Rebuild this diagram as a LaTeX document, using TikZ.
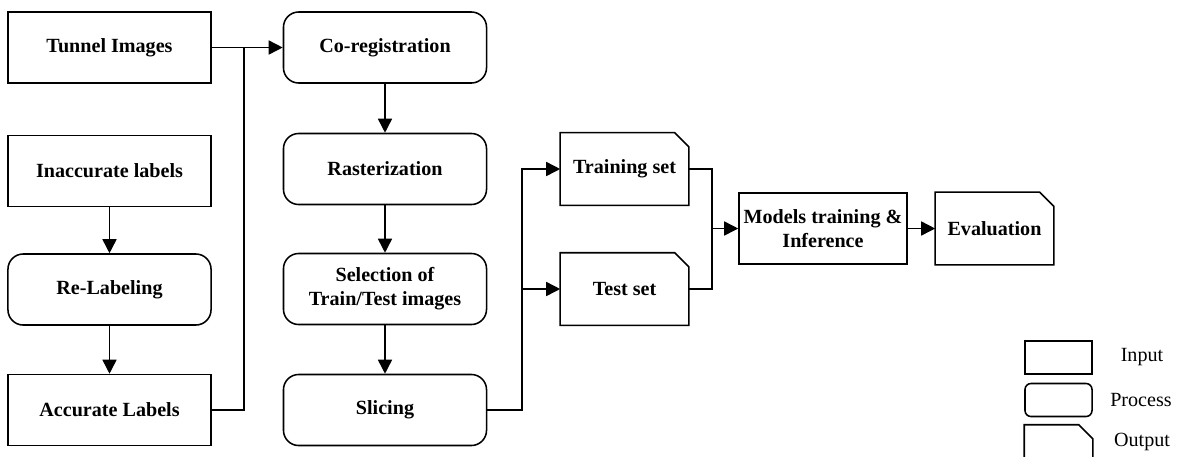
\documentclass[tikz,border=0pt]{standalone}
\usepackage{fontspec}
\setmainfont{Liberation Serif}
\usetikzlibrary{arrows.meta}
\newcommand\outshape[2][]{\draw[#1] (#2.south west) -- (#2.north west) -- ([xshift=-0.35cm]#2.north east) -- ([yshift=-0.35cm]#2.north east) -- (#2.south east) -- cycle;}
\begin{document}
\begin{tikzpicture}[
    x=0.025cm, y=-0.025cm,
    line width=1.1pt,
    every node/.style={font=\fontsize{14.3}{17}\selectfont, align=center},
    inbox/.style={draw, font=\fontsize{14.3}{17}\selectfont\bfseries, minimum width=5.075cm, minimum height=1.775cm},
    procbox/.style={inbox, rounded corners=0.38cm},
    outbox/.style={inbox, draw=none},
    arrow/.style={-{Triangle[length=10pt,width=10pt]}}
]
\useasboundingbox (0,0) rectangle (1182,456);
% inputs
\node[inbox] (tunnel) at (109.5,47.5) {Tunnel Images};
\node[inbox] (inacc) at (109.5,171) {Inaccurate labels};
\node[procbox] (relab) at (109.5,289.5) {Re-Labeling};
\node[inbox] (acc) at (109.5,410) {Accurate Labels};
% processing
\node[procbox] (coreg) at (385,47.5) {Co-registration};
\node[procbox] (rast) at (385,169) {Rasterization};
\node[procbox] (select) at (385,289) {Selection of\\Train/Test images};
\node[procbox] (slice) at (385,410) {Slicing};
% outputs
\node[outbox, minimum width=3.175cm] (train) at (624.5,169) {Training set};
\node[outbox, minimum width=3.175cm] (test) at (624.5,289) {Test set};
\node[inbox, minimum width=4.15cm] (model) at (823,228.5) {Models training \&\\Inference};
\node[outbox, minimum width=2.925cm] (eval) at (994.5,228.5) {Evaluation};
\outshape{train}
\outshape{test}
\outshape{eval}

\coordinate (jin) at (244,47.5);
\coordinate (jslice) at (522,289);
\coordinate (jset) at (712,228.5);

\draw[arrow] (tunnel) -- (coreg);
\draw (acc.east) -| (jin);
\draw[arrow] (inacc) -- (relab);
\draw[arrow] (relab) -- (acc);
\draw[arrow] (coreg) -- (rast);
\draw[arrow] (rast) -- (select);
\draw[arrow] (select) -- (slice);
\draw[arrow] (slice.east) -| (jslice) |- (train.west);
\draw[arrow] (jslice) -- (test.west);
\draw (train.east) -| (jset);
\draw (test.east) -| (jset);
\draw[arrow] (jset) -- (model);
\draw[arrow] (model) -- (eval);

% legend
\node[draw, minimum width=1.675cm, minimum height=0.825cm] (lin) at (1058.5,357.5) {};
\node[draw, rounded corners=0.15cm, minimum width=1.675cm, minimum height=0.825cm] (lproc) at (1058.5,400) {};
\node[minimum width=1.675cm, minimum height=0.825cm] (lout) at (1058.5,442) {};
\outshape[]{lout}
\node (tin) at (1142,357) {Input};
\node (tproc) at (1141,400) {Process};
\node (tout) at (1142,442) {Output};
\end{tikzpicture}
\end{document}
